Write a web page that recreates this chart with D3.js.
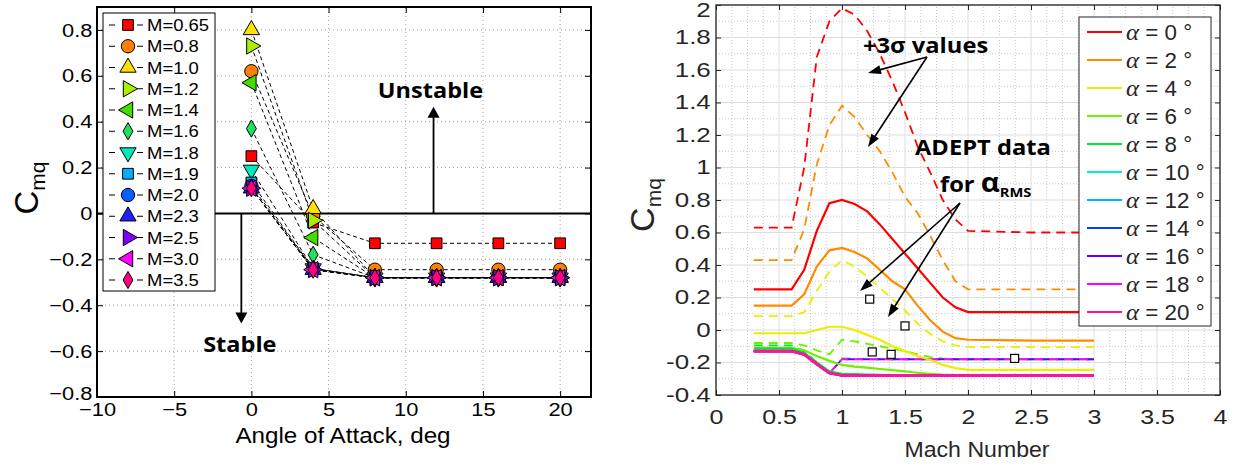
<!DOCTYPE html>
<html><head><meta charset="utf-8">
<script src="https://cdn.jsdelivr.net/npm/d3@7"></script>
<style>body{margin:0;background:#fff;} svg{display:block;}</style>
</head><body>
<svg id="chart" width="1233" height="465"></svg>
<script>
// ================= LEFT PANEL DATA =================
const aoaDeg = [0, 4, 8, 12, 16, 20];
const machLabels = ["M=0.65","M=0.8","M=1.0","M=1.2","M=1.4","M=1.6","M=1.8","M=1.9","M=2.0","M=2.3","M=2.5","M=3.0","M=3.5"];
const cmqM065 = [0.25, -0.04, -0.13, -0.13, -0.13, -0.13];
const cmqM08  = [0.62, -0.01, -0.245, -0.245, -0.245, -0.245];
const cmqM10  = [0.80, 0.02, -0.28, -0.28, -0.28, -0.28];
const cmqM12  = [0.73, -0.03, -0.28, -0.28, -0.28, -0.28];
const cmqM14  = [0.57, -0.105, -0.28, -0.28, -0.28, -0.28];
const cmqM16  = [0.37, -0.18, -0.28, -0.28, -0.28, -0.28];
const cmqM18  = [0.19, -0.24, -0.28, -0.28, -0.28, -0.28];
const cmqM19  = [0.135, -0.24, -0.28, -0.28, -0.28, -0.28];
const cmqM20  = [0.12, -0.24, -0.28, -0.28, -0.28, -0.28];
const cmqM23  = [0.11, -0.245, -0.28, -0.28, -0.28, -0.28];
const cmqM25  = [0.11, -0.245, -0.28, -0.28, -0.28, -0.28];
const cmqM30  = [0.11, -0.245, -0.28, -0.28, -0.28, -0.28];
const cmqM35  = [0.11, -0.245, -0.28, -0.28, -0.28, -0.28];
const leftSeries = [cmqM065, cmqM08, cmqM10, cmqM12, cmqM14, cmqM16, cmqM18, cmqM19, cmqM20, cmqM23, cmqM25, cmqM30, cmqM35];
const leftXTicks = [-10, -5, 0, 5, 10, 15, 20];
const leftYTicks = [-0.8, -0.6, -0.4, -0.2, 0, 0.2, 0.4, 0.6, 0.8];

// styles (left)
const markerColors = ["#ff0000","#ff7f00","#ffe000","#a8f000","#44dd00","#22e060","#00e8c0","#00b0ff","#0060ff","#2020ff","#8000ff","#ff00ff","#ff0080"];
const markerShapes = ["square","circle","up","right","left","diamond","down","square","circle","up","right","left","diamond"];

// ================= RIGHT PANEL DATA =================
const machGrid = [0.3, 0.6, 0.7, 0.8, 0.9, 1.0, 1.1, 1.2, 1.3, 1.4, 1.5, 1.6, 1.7, 1.8, 1.9, 2.0, 2.5, 3.0];
const alphaLabels = ["0","2","4","6","8","10","12","14","16","18","20"];
const cmqA0  = [0.25,0.25,0.37,0.61,0.78,0.80,0.775,0.73,0.65,0.56,0.47,0.38,0.29,0.20,0.14,0.11,0.11,0.11];
const cmqA2  = [0.15,0.15,0.22,0.39,0.49,0.505,0.48,0.44,0.37,0.30,0.25,0.15,0.06,-0.01,-0.05,-0.06,-0.065,-0.065];
const cmqA4  = [-0.02,-0.02,-0.02,0.0,0.02,0.02,0.0,-0.03,-0.06,-0.10,-0.13,-0.16,-0.185,-0.215,-0.235,-0.245,-0.245,-0.245];
const cmqA6  = [-0.11,-0.11,-0.125,-0.16,-0.19,-0.215,-0.225,-0.232,-0.24,-0.247,-0.255,-0.263,-0.27,-0.275,-0.278,-0.28,-0.28,-0.28];
const cmqA8  = [-0.115,-0.115,-0.14,-0.20,-0.255,-0.27,-0.272,-0.274,-0.276,-0.278,-0.28,-0.28,-0.28,-0.28,-0.28,-0.28,-0.28,-0.28];
const cmqA10 = [-0.13,-0.13,-0.15,-0.21,-0.265,-0.28,-0.28,-0.28,-0.28,-0.28,-0.28,-0.28,-0.28,-0.28,-0.28,-0.28,-0.28,-0.28];
const cmqA12 = [-0.13,-0.13,-0.15,-0.21,-0.265,-0.28,-0.28,-0.28,-0.28,-0.28,-0.28,-0.28,-0.28,-0.28,-0.28,-0.28,-0.28,-0.28];
const cmqA14 = [-0.13,-0.13,-0.15,-0.21,-0.265,-0.28,-0.28,-0.28,-0.28,-0.28,-0.28,-0.28,-0.28,-0.28,-0.28,-0.28,-0.28,-0.28];
const cmqA16 = [-0.13,-0.13,-0.15,-0.21,-0.265,-0.28,-0.28,-0.28,-0.28,-0.28,-0.28,-0.28,-0.28,-0.28,-0.28,-0.28,-0.28,-0.28];
const cmqA18 = [-0.13,-0.13,-0.15,-0.21,-0.265,-0.28,-0.28,-0.28,-0.28,-0.28,-0.28,-0.28,-0.28,-0.28,-0.28,-0.28,-0.28,-0.28];
const cmqA20 = [-0.13,-0.13,-0.15,-0.21,-0.265,-0.28,-0.28,-0.28,-0.28,-0.28,-0.28,-0.28,-0.28,-0.28,-0.28,-0.28,-0.28,-0.28];
// +3 sigma values (dashed)
const sigA0  = [0.63,0.63,1.00,1.68,1.90,1.98,1.94,1.84,1.70,1.53,1.34,1.13,0.97,0.80,0.68,0.61,0.60,0.60];
const sigA2  = [0.43,0.43,0.62,1.02,1.26,1.38,1.31,1.20,1.10,0.97,0.82,0.72,0.58,0.43,0.30,0.25,0.25,0.25];
const sigA4  = [0.085,0.085,0.11,0.24,0.36,0.43,0.39,0.33,0.26,0.19,0.12,0.04,-0.025,-0.07,-0.095,-0.105,-0.105,-0.105];
const sigA6  = [-0.08,-0.08,-0.095,-0.125,-0.15,-0.06,-0.07,-0.085,-0.10,-0.115,-0.13,-0.15,-0.165,-0.175,-0.18,-0.18,-0.18,-0.18];
const sigA8  = [-0.095,-0.095,-0.13,-0.20,-0.27,-0.175,-0.178,-0.18,-0.18,-0.18,-0.18,-0.18,-0.18,-0.18,-0.18,-0.18,-0.18,-0.18];
const sigA16 = [-0.13,-0.13,-0.15,-0.21,-0.265,-0.18,-0.18,-0.18,-0.18,-0.18,-0.18,-0.18,-0.18,-0.18,-0.18,-0.18,-0.18,-0.18];
const sigA18 = [-0.13,-0.13,-0.15,-0.21,-0.265,-0.18,-0.18,-0.18,-0.18,-0.18,-0.18,-0.18,-0.18,-0.18,-0.18,-0.18,-0.18,-0.18];
const adeptMach = [1.22, 1.50, 1.24, 1.39, 2.37];
const adeptCmq  = [0.19, 0.025, -0.135, -0.15, -0.175];
const rightXTicks = [0, 0.5, 1, 1.5, 2, 2.5, 3, 3.5, 4];
const rightYTicks = [-0.4,-0.2,0,0.2,0.4,0.6,0.8,1,1.2,1.4,1.6,1.8,2];

// styles (right)
const alphaColors = ["#ff0000","#ff8c00","#e8f000","#70f000","#00e830","#00f0c0","#00b4ff","#0040ff","#6000ff","#ff00ff","#ff1493"];

// ================= HELPERS =================
const svg = d3.select("#chart");
const SANS = "'Liberation Sans', Arial, Helvetica, sans-serif";
const BOLD = "'Open Sans', 'DejaVu Sans', sans-serif";

function stext(parent, x, y, str, o = {}) {
  const t = parent.append("text")
    .attr("transform", `translate(${x},${y}) scale(${o.sx || 1},1)`)
    .attr("font-family", o.family || SANS)
    .attr("font-size", o.size || 16)
    .attr("font-weight", o.weight || "normal")
    .attr("text-anchor", o.anchor || "start")
    .attr("fill", o.fill || "#000");
  if (str !== null) t.text(str);
  return t;
}
function symbolPath(shape, size) {
  const map = {square: d3.symbolSquare, circle: d3.symbolCircle, up: d3.symbolTriangle,
    down: d3.symbolTriangle, left: d3.symbolTriangle, right: d3.symbolTriangle, diamond: d3.symbolDiamond};
  return d3.symbol().type(map[shape]).size(size)();
}
const shapeRot = {square:0, circle:0, up:0, down:180, left:-90, right:90, diamond:0};
const shapeSize = {square:115, circle:140, up:115, down:115, left:115, right:115, diamond:85};
function arrow(parent, x1, y1, x2, y2, o = {}) {
  const len = o.head || 11, half = o.half || 5;
  const dx = x2 - x1, dy = y2 - y1, L = Math.hypot(dx, dy), ux = dx / L, uy = dy / L;
  const bx = x2 - ux * len, by = y2 - uy * len;
  parent.append("line").attr("x1", x1).attr("y1", y1).attr("x2", bx + ux * 2).attr("y2", by + uy * 2)
    .attr("stroke", "#000").attr("stroke-width", o.w || 1.6);
  parent.append("path")
    .attr("d", `M${x2},${y2}L${bx - uy * half},${by + ux * half}L${bx + uy * half},${by - ux * half}Z`)
    .attr("fill", "#000");
}

// ================= LEFT PANEL =================
const xL = d3.scaleLinear().domain([-10, 22]).range([97, 591]);
const yL = d3.scaleLinear().domain([-0.8, 0.9]).range([397, 7]);
const gL = svg.append("g");

// grid (dotted)
gL.append("g").selectAll("line").data(leftXTicks.slice(1)).join("line")
  .attr("x1", d => xL(d)).attr("x2", d => xL(d)).attr("y1", yL(-0.8)).attr("y2", yL(0.9))
  .attr("stroke", "#8a8a8a").attr("stroke-width", 0.8).attr("stroke-dasharray", "1,3");
gL.append("g").selectAll("line").data(leftYTicks.slice(1)).join("line")
  .attr("x1", xL(-10)).attr("x2", xL(22)).attr("y1", d => yL(d)).attr("y2", d => yL(d))
  .attr("stroke", "#8a8a8a").attr("stroke-width", 0.8).attr("stroke-dasharray", "1,3");

// zero line
gL.append("line").attr("x1", xL(-10)).attr("x2", xL(22)).attr("y1", yL(0)).attr("y2", yL(0))
  .attr("stroke", "#000").attr("stroke-width", 2);

// axes
const fmtL = d => d === 0 ? "0" : String(d).replace("-", "\u2212");
const axL = gL.append("g").attr("transform", `translate(${xL(-10)},0)`)
  .call(d3.axisLeft(yL).tickValues(leftYTicks).tickFormat(fmtL).tickSize(-6).tickPadding(4));
const axR = gL.append("g").attr("transform", `translate(${xL(22)},0)`)
  .call(d3.axisRight(yL).tickValues(leftYTicks).tickFormat("").tickSize(-6));
const axB = gL.append("g").attr("transform", `translate(0,${yL(-0.8)})`)
  .call(d3.axisBottom(xL).tickValues(leftXTicks).tickFormat(fmtL).tickSize(-6).tickPadding(6));
const axT = gL.append("g").attr("transform", `translate(0,${yL(0.9)})`)
  .call(d3.axisTop(xL).tickValues(leftXTicks).tickFormat("").tickSize(-6));
[axL, axR, axB, axT].forEach(a => {
  a.select(".domain").remove();
  a.selectAll("line").attr("stroke", "#000").attr("stroke-width", 1);
  a.selectAll("text").attr("font-family", SANS).attr("font-size", 19).attr("fill", "#000");
});
axL.selectAll("text").attr("transform", "scale(1.15,1)");
axL.selectAll("text").filter(d => d === -0.8).attr("dy", "0.12em");
axB.selectAll("text").attr("transform", "scale(1.15,1)");
gL.append("rect").attr("x", xL(-10)).attr("y", yL(0.9)).attr("width", xL(22) - xL(-10)).attr("height", yL(-0.8) - yL(0.9))
  .attr("fill", "none").attr("stroke", "#000").attr("stroke-width", 2);

// annotations: Stable / Unstable
arrow(gL, xL(-0.65), yL(0), xL(-0.65), yL(-0.48), {head: 11, half: 6, w: 1.8});
arrow(gL, xL(11.8), yL(0), xL(11.8), yL(0.465), {head: 11, half: 6, w: 1.8});
stext(gL, xL(-0.75), 352, "Stable", {family: BOLD, weight: "bold", size: 21, anchor: "middle", sx: 1.12});
stext(gL, xL(11.6), 98, "Unstable", {family: BOLD, weight: "bold", size: 21, anchor: "middle", sx: 1.12});

// series lines
const lineL = d3.line().x((d, i) => xL(aoaDeg[i])).y(d => yL(d));
leftSeries.forEach(s => {
  gL.append("path").attr("d", lineL(s)).attr("fill", "none").attr("stroke", "#000")
    .attr("stroke-width", 1).attr("stroke-dasharray", "4,3");
});
// markers
leftSeries.forEach((s, k) => {
  gL.append("g").selectAll("path").data(s).join("path")
    .attr("d", symbolPath(markerShapes[k], shapeSize[markerShapes[k]]))
    .attr("transform", (d, i) => `translate(${xL(aoaDeg[i])},${yL(d)}) rotate(${shapeRot[markerShapes[k]]})`)
    .attr("fill", markerColors[k]).attr("stroke", "#000").attr("stroke-width", 1);
});

// legend (left)
const lg = gL.append("g");
lg.append("rect").attr("x", 103).attr("y", 13).attr("width", 112).attr("height", 278)
  .attr("fill", "#fff").attr("stroke", "#000").attr("stroke-width", 1);
machLabels.forEach((lab, k) => {
  const y = 25 + k * 21.25;
  lg.append("line").attr("x1", 109).attr("x2", 145).attr("y1", y).attr("y2", y)
    .attr("stroke", "#000").attr("stroke-width", 1).attr("stroke-dasharray", "6,8");
  lg.append("path").attr("d", symbolPath(markerShapes[k], shapeSize[markerShapes[k]]))
    .attr("transform", `translate(128,${y}) rotate(${shapeRot[markerShapes[k]]})`)
    .attr("fill", markerColors[k]).attr("stroke", "#000").attr("stroke-width", 1);
  stext(lg, 147, y + 6, lab, {size: 16.5, sx: 1.12});
});

// axis labels (left)
const ylabL = gL.append("text").attr("transform", "translate(38,188) rotate(-90)")
  .attr("font-family", SANS).attr("font-size", 33).attr("text-anchor", "middle");
ylabL.append("tspan").text("C");
ylabL.append("tspan").attr("font-size", 21).attr("dy", 7).text("mq");
stext(gL, 343, 443, "Angle of Attack, deg", {size: 22, anchor: "middle", sx: 1.1});

// ================= RIGHT PANEL =================
const xR = d3.scaleLinear().domain([0, 4]).range([716, 1220]);
const yR = d3.scaleLinear().domain([-0.4, 2]).range([395, 5]);
const gR = svg.append("g");
const GRAY = "#262626";

// minor grid
const minorX = d3.range(0, 4.0001, 0.125).filter(v => Math.abs(v * 2 - Math.round(v * 2)) > 1e-6);
const minorY = d3.range(-0.4, 2.0001, 0.1).filter(v => Math.abs(v * 5 - Math.round(v * 5)) > 1e-6);
gR.append("g").selectAll("line").data(minorX).join("line")
  .attr("x1", d => xR(d)).attr("x2", d => xR(d)).attr("y1", yR(-0.4)).attr("y2", yR(2))
  .attr("stroke", "#bdbdbd").attr("stroke-width", 0.8).attr("stroke-dasharray", "1,2");
gR.append("g").selectAll("line").data(minorY).join("line")
  .attr("x1", xR(0)).attr("x2", xR(4)).attr("y1", d => yR(d)).attr("y2", d => yR(d))
  .attr("stroke", "#bdbdbd").attr("stroke-width", 0.8).attr("stroke-dasharray", "1,2");
// major grid
gR.append("g").selectAll("line").data(rightXTicks).join("line")
  .attr("x1", d => xR(d)).attr("x2", d => xR(d)).attr("y1", yR(-0.4)).attr("y2", yR(2))
  .attr("stroke", "#dedede").attr("stroke-width", 1);
gR.append("g").selectAll("line").data(rightYTicks).join("line")
  .attr("x1", xR(0)).attr("x2", xR(4)).attr("y1", d => yR(d)).attr("y2", d => yR(d))
  .attr("stroke", "#dedede").attr("stroke-width", 1);

// curves
const lineR = d3.line().x((d, i) => xR(machGrid[i])).y(d => yR(d));
const solidSeries = [cmqA0, cmqA2, cmqA4, cmqA6, cmqA8, cmqA10, cmqA12, cmqA14, cmqA16, cmqA18, cmqA20];
const sigmaSeries = [[sigA0, 0], [sigA2, 1], [sigA4, 2], [sigA6, 3], [sigA8, 4], [sigA16, 8], [sigA18, 9]];
sigmaSeries.forEach(([s, k], j) => {
  gR.append("path").attr("d", lineR(s)).attr("fill", "none").attr("stroke", alphaColors[k])
    .attr("stroke-width", 1.8).attr("stroke-dasharray", "9,6").attr("stroke-dashoffset", j >= 5 ? (j - 5) * 7 : 0);
});
solidSeries.forEach((s, k) => {
  gR.append("path").attr("d", lineR(s)).attr("fill", "none").attr("stroke", alphaColors[k])
    .attr("stroke-width", k >= 9 ? 2.6 : 2.2);
});
// ADEPT data
gR.append("g").selectAll("rect").data(adeptMach).join("rect")
  .attr("x", d => xR(d) - 4).attr("y", (d, i) => yR(adeptCmq[i]) - 4).attr("width", 8).attr("height", 8)
  .attr("fill", "#fff").attr("stroke", "#000").attr("stroke-width", 1.2);

// axes
const fmtR = d => String(+d.toFixed(1));
const rL = gR.append("g").attr("transform", `translate(${xR(0)},0)`)
  .call(d3.axisLeft(yR).tickValues(rightYTicks).tickFormat(fmtR).tickSize(-5).tickPadding(4));
const rR = gR.append("g").attr("transform", `translate(${xR(4)},0)`)
  .call(d3.axisRight(yR).tickValues(rightYTicks).tickFormat("").tickSize(-5));
const rB = gR.append("g").attr("transform", `translate(0,${yR(-0.4)})`)
  .call(d3.axisBottom(xR).tickValues(rightXTicks).tickFormat(fmtR).tickSize(-5).tickPadding(15));
const rT = gR.append("g").attr("transform", `translate(0,${yR(2)})`)
  .call(d3.axisTop(xR).tickValues(rightXTicks).tickFormat("").tickSize(-5));
[rL, rR, rB, rT].forEach(a => {
  a.select(".domain").remove();
  a.selectAll("line").attr("stroke", GRAY).attr("stroke-width", 1);
  a.selectAll("text").attr("font-family", SANS).attr("font-size", 20).attr("fill", GRAY);
});
rL.selectAll("text").attr("transform", "scale(1.3,1)");
rL.selectAll("text").filter(d => d === 2).attr("dy", "0.58em");
rB.selectAll("text").attr("transform", "scale(1.25,1)");
gR.append("rect").attr("x", xR(0)).attr("y", yR(2)).attr("width", xR(4) - xR(0)).attr("height", yR(-0.4) - yR(2))
  .attr("fill", "none").attr("stroke", GRAY).attr("stroke-width", 1.3);

// annotations
stext(gR, 863, 53, "+3σ values", {family: BOLD, weight: "bold", size: 21, sx: 1.13});
arrow(gR, 927, 57, 868, 73, {head: 13, half: 4.5, w: 1.6});
arrow(gR, 927, 57, 868, 147, {head: 13, half: 4.5, w: 1.6});
stext(gR, 915, 155, "ADEPT data", {family: BOLD, weight: "bold", size: 21, sx: 1.13});
const forT = stext(gR, 940, 192, null, {family: BOLD, weight: "bold", size: 21, sx: 1.13});
forT.append("tspan").text("for ");
forT.append("tspan").attr("font-size", 26).text("α");
forT.append("tspan").attr("font-size", 13).attr("dy", 5).text("RMS");
arrow(gR, 960, 203, 860, 291, {head: 13, half: 4.5, w: 1.6});
arrow(gR, 960, 203, 888, 317, {head: 13, half: 4.5, w: 1.6});

// legend (right)
const lgR = gR.append("g");
lgR.append("rect").attr("x", 1079).attr("y", 17).attr("width", 132).attr("height", 309)
  .attr("fill", "#fff").attr("stroke", GRAY).attr("stroke-width", 1);
alphaLabels.forEach((a, k) => {
  const y = 32 + k * 28;
  lgR.append("line").attr("x1", 1087).attr("x2", 1122).attr("y1", y).attr("y2", y)
    .attr("stroke", alphaColors[k]).attr("stroke-width", 2.2);
  const t = stext(lgR, 1126, y + 8, null, {size: 21.5, fill: GRAY, sx: 1.04});
  t.append("tspan").attr("font-family", "'Liberation Serif', 'DejaVu Serif', serif").attr("font-style", "italic").attr("font-size", 24).text("α");
  t.append("tspan").text(" = " + a + " °");
});

// axis labels (right)
const ylabR = gR.append("text").attr("transform", "translate(654,205) rotate(-90)")
  .attr("font-family", SANS).attr("font-size", 34).attr("text-anchor", "middle").attr("fill", GRAY);
ylabR.append("tspan").text("C");
ylabR.append("tspan").attr("font-size", 21).attr("dy", 7).text("mq");
stext(gR, 977, 457, "Mach Number", {size: 22, anchor: "middle", fill: GRAY, sx: 1.05});
</script>
</body></html>
